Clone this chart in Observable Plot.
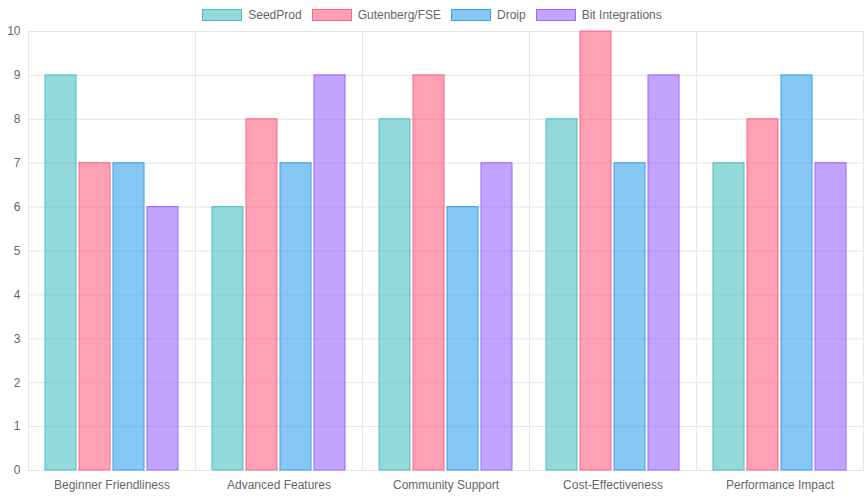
<!DOCTYPE html>
<html><head>
<script src="https://cdn.jsdelivr.net/npm/d3@7"></script>
<script src="https://cdn.jsdelivr.net/npm/@observablehq/plot@0.6"></script>
<style>
body{margin:0;background:#fff;font-family:"Liberation Sans",Arial,sans-serif;}
#legend{height:24px;display:flex;justify-content:center;align-items:center;gap:10px;font-size:12px;color:#666;padding-top:6px;box-sizing:border-box}
.item{display:flex;align-items:center;gap:6px}
.sw{width:38px;height:10px;border-width:1px;border-style:solid}
</style></head>
<body>
<div id="legend"></div>
<div id="chart"></div>
<script>
const categories = ["Beginner Friendliness","Advanced Features","Community Support","Cost-Effectiveness","Performance Impact"];
const series = ["SeedProd","Gutenberg/FSE","Droip","Bit Integrations"];
const seedProd = [9,6,8,8,7];
const gutenberg = [7,8,9,10,8];
const droip = [7,7,6,7,9];
const bitIntegrations = [6,9,7,9,7];
const fills = ["rgba(75,192,192,0.6)","rgba(255,99,132,0.6)","rgba(54,162,235,0.6)","rgba(153,102,255,0.6)"];
const strokes = ["rgb(75,192,192)","rgb(255,99,132)","rgb(54,162,235)","rgb(153,102,255)"];
const values = [seedProd, gutenberg, droip, bitIntegrations];
const data = [];
categories.forEach((c,i)=>series.forEach((s,j)=>data.push({category:c, series:s, value:values[j][i]})));

const lg = document.getElementById("legend");
series.forEach((s,j)=>{
  const d=document.createElement("div");d.className="item";
  d.innerHTML=`<span class="sw" style="background:${fills[j]};border-color:${strokes[j]}"></span><span>${s}</span>`;
  lg.appendChild(d);
});

const chart = Plot.plot({
  width:864, height:476,
  marginLeft:27, marginRight:1, marginTop:7, marginBottom:30,
  style:{fontFamily:"Liberation Sans, Arial, sans-serif", fontSize:"12px", color:"#666"},
  fx:{domain:categories, padding:0, label:null},
  x:{domain:series, paddingInner:0.1, paddingOuter:0.5, axis:null},
  y:{domain:[0,10], label:null},
  color:{domain:series, range:fills},
  marks:[
    Plot.gridY(d3.range(0,11), {stroke:"#e5e5e5", strokeOpacity:1}),
    Plot.frame({anchor:"left", stroke:"#e5e5e5"}),
    Plot.frame({anchor:"right", stroke:"#e5e5e5"}),
    Plot.axisY(d3.range(0,11), {tickSize:0, tickPadding:8, label:null, fill:"#666"}),
    Plot.axisFx({anchor:"bottom", tickSize:0, tickPadding:10, label:null, fill:"#666"}),
    Plot.barY(data, {fx:"category", x:"series", y:"value", fill:"series", stroke:d=>strokes[series.indexOf(d.series)], strokeWidth:1})
  ]
});
document.getElementById("chart").appendChild(chart);
</script>
</body></html>
